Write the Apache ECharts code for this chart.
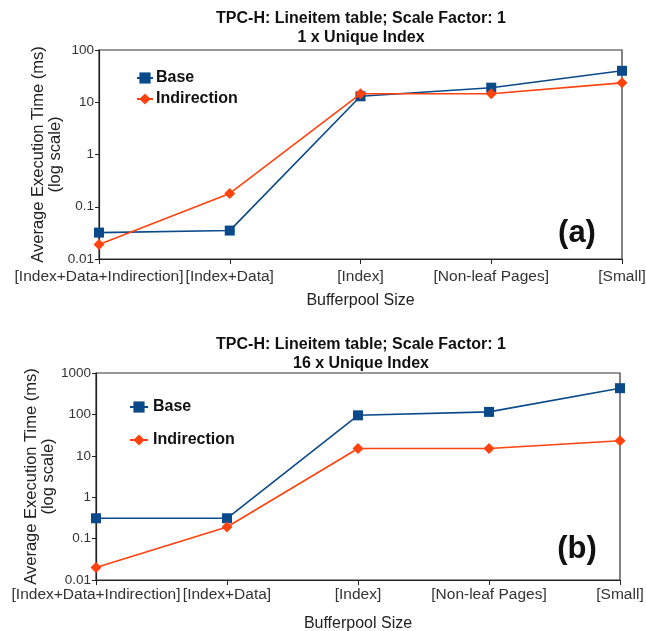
<!DOCTYPE html>
<html><head><meta charset="utf-8">
<script src="https://cdn.jsdelivr.net/npm/echarts@6/dist/echarts.min.js"></script>
<style>html,body{margin:0;padding:0;background:#fff}#c{width:646px;height:631px}</style>
</head><body><div id="c"></div>
<script>
const categories = ['[Index+Data+Indirection]', '[Index+Data]', '[Index]', '[Non-leaf Pages]', '[Small]'];
const baseA = [0.032, 0.035, 13, 19, 40];
const indirA = [0.019, 0.18, 14.5, 14.5, 23.5];
const baseB = [0.31, 0.31, 95, 115, 430];
const indirB = [0.02, 0.19, 15, 15, 23];
const titleA = ['TPC-H: Lineitem table; Scale Factor: 1', '1 x Unique Index'];
const titleB = ['TPC-H: Lineitem table; Scale Factor: 1', '16 x Unique Index'];
const yTicksA = [0.01, 0.1, 1, 10, 100];
const yTicksB = [0.01, 0.1, 1, 10, 100, 1000];

const BLUE = '#0a4a8a', ORANGE = '#ff420e';
const FONT = '"Liberation Sans", Arial, sans-serif';

function xAxis(gi, gap, margin) {
  return {
    type: 'category', gridIndex: gi, data: categories, boundaryGap: false,
    name: 'Bufferpool Size', nameLocation: 'middle', nameGap: gap, nameMoveOverlap: false,
    nameTextStyle: { fontFamily: FONT, fontSize: 16, color: '#222' },
    axisLine: { lineStyle: { color: '#222', width: 1.2 } },
    axisTick: { show: true, length: 5, lineStyle: { color: '#222' } },
    axisLabel: { fontFamily: FONT, fontSize: 15.5, color: '#333', margin, interval: 0 },
    splitLine: { show: false }
  };
}
function yAxis(gi, ticks, gap) {
  return {
    type: 'log', gridIndex: gi, logBase: 10, min: ticks[0], max: ticks[ticks.length - 1],
    name: 'Average Execution Time (ms)\n(log scale)', nameLocation: 'middle', nameGap: gap, nameRotate: 90,
    nameMoveOverlap: false,
    nameTextStyle: { fontFamily: FONT, fontSize: 16.5, color: '#222', lineHeight: 17 },
    axisLine: { show: true, lineStyle: { color: '#222', width: 1.2 } },
    axisTick: { show: true, length: 4, lineStyle: { color: '#222' } },
    axisLabel: { fontFamily: FONT, fontSize: 13.5, color: '#333', margin: 5,
      formatter: v => { const r = ticks.find(t => Math.abs(Math.log10(t) - Math.log10(v)) < 1e-6); return r !== undefined ? String(r) : ''; } },
    splitLine: { show: false }
  };
}
function lineSeries(name, data, xi, color, sym, size) {
  return {
    name, type: 'line', xAxisIndex: xi, yAxisIndex: xi, data,
    symbol: sym, symbolSize: size, showSymbol: true,
    itemStyle: { color }, lineStyle: { color, width: 1.6 }, z: name === 'Base' ? 3 : 4
  };
}
function titleGraphic(lines, y) {
  return {
    type: 'text', x: 361, y, style: {
      text: lines.join('\n'), fill: '#111', font: 'bold 16px ' + FONT, align: 'center', verticalAlign: 'top', lineHeight: 19
    }
  };
}

const chart = echarts.init(document.getElementById('c'), null, { renderer: 'canvas' });
chart.setOption({
  animation: false,
  backgroundColor: '#fff',
  grid: [
    { left: 99, right: 24, top: 50, height: 209, show: true, borderColor: '#333', borderWidth: 1.2, backgroundColor: 'transparent', outerBoundsMode: 'none', containLabel: false },
    { left: 96, right: 26, top: 373, height: 207, show: true, borderColor: '#333', borderWidth: 1.2, backgroundColor: 'transparent', outerBoundsMode: 'none', containLabel: false }
  ],
  xAxis: [xAxis(0, 34, 10), xAxis(1, 36, 7)],
  yAxis: [yAxis(0, yTicksA, 35), yAxis(1, yTicksB, 39)],
  legend: [
    { left: 131, top: 65, orient: 'vertical', itemGap: 5, itemWidth: 16, itemHeight: 14,
      textStyle: { fontFamily: FONT, fontSize: 16, fontWeight: 'bold', color: '#111', padding: [0, 0, 0, -2] },
      data: [{ name: 'Base' }, { name: 'Indirection' }], selectedMode: false },
    { left: 124, top: 394, orient: 'vertical', itemGap: 17, itemWidth: 18, itemHeight: 14,
      textStyle: { fontFamily: FONT, fontSize: 16, fontWeight: 'bold', color: '#111' },
      data: [{ name: 'Base' }, { name: 'Indirection' }], selectedMode: false }
  ],
  series: [
    lineSeries('Base', baseA, 0, BLUE, 'rect', 10),
    lineSeries('Indirection', indirA, 0, ORANGE, 'diamond', 11),
    lineSeries('Base', baseB, 1, BLUE, 'rect', 10),
    lineSeries('Indirection', indirB, 1, ORANGE, 'diamond', 11)
  ],
  graphic: [
    titleGraphic(titleA, 9),
    titleGraphic(titleB, 335),
    { type: 'text', x: 577, y: 233, style: { text: '(a)', font: 'bold 31px ' + FONT, fill: '#111', align: 'center', verticalAlign: 'middle' } },
    { type: 'text', x: 577, y: 549, style: { text: '(b)', font: 'bold 31px ' + FONT, fill: '#111', align: 'center', verticalAlign: 'middle' } }
  ]
});
</script></body></html>
